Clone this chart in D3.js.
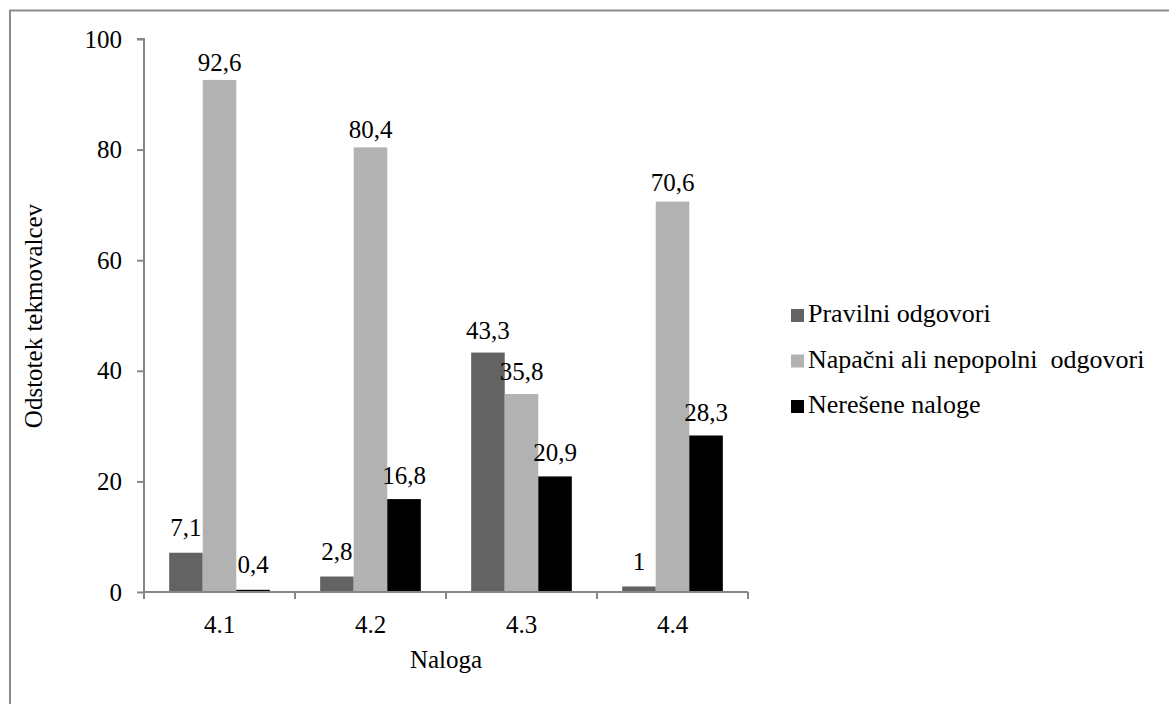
<!DOCTYPE html>
<html>
<head>
<meta charset="utf-8">
<script src="https://cdn.jsdelivr.net/npm/d3@7/dist/d3.min.js"></script>
</head>
<body style="margin:0">
<svg id="s" width="1169" height="704" style="font-family: 'Liberation Serif', Tinos, 'Times New Roman', serif"></svg>
<script>
// Naloge (tasks) on the x axis
const categories = ["4.1", "4.2", "4.3", "4.4"];
// Share of contestants per task, in percent
const seriesNames = ["Pravilni odgovori", "Napačni ali nepopolni\u00a0 odgovori", "Nerešene naloge"];
const pravilni = [7.1, 2.8, 43.3, 1];
const napacni = [92.6, 80.4, 35.8, 70.6];
const neresene = [0.4, 16.8, 20.9, 28.3];
const yTicks = [0, 20, 40, 60, 80, 100];
const seriesColors = ["#636363", "#b2b2b2", "#000000"];

const SERIF = "'Liberation Serif', Tinos, 'Times New Roman', serif";
const series = [pravilni, napacni, neresene];
const rows = categories.map((c, i) => ({
  cat: c,
  vals: series.map((s, k) => ({ key: k, cat: c, v: s[i] }))
}));

const svg = d3.select("#s");
const axisColor = "#868686";

// helper for all chart text: serif face, black
function label(sel, size) {
  return sel.attr("font-size", size)
    .attr("font-family", SERIF)
    .style("font-family", SERIF)
    .attr("fill", "#000");
}

// outer chart frame (top and left edges are visible)
svg.append("path")
  .attr("d", "M10,704 V10.5 H1169")
  .attr("fill", "none")
  .attr("stroke", "#8c8c8c")
  .attr("stroke-width", 2);

const x0 = d3.scaleBand().domain(categories).range([144, 748]);
// bars take 3 of 4.5 slots in each band (gap width 150%)
const bw = x0.bandwidth() / 4.5;
const y = d3.scaleLinear().domain([0, 100]).range([592, 39]);

// y axis
const yAxis = svg.append("g").attr("transform", "translate(144,0)")
  .call(d3.axisLeft(y).tickValues(yTicks).tickSize(7).tickPadding(15).tickFormat(d3.format("d")));
yAxis.attr("font-family", SERIF).attr("font-size", 25);
yAxis.select(".domain").attr("stroke", axisColor).attr("stroke-width", 2).attr("d", "M-7,39H0V592");
yAxis.selectAll(".tick line").attr("stroke", axisColor).attr("stroke-width", 2);
label(yAxis.selectAll(".tick text"), 25).attr("dy", "0.32em");

// bars
const groups = svg.append("g").selectAll("g").data(rows).join("g")
  .attr("transform", d => `translate(${x0(d.cat)},0)`);

groups.selectAll("rect").data(d => d.vals).join("rect")
  .attr("x", d => bw * 0.75 + d.key * bw)
  .attr("width", bw)
  .attr("y", d => y(d.v))
  .attr("height", d => y(0) - y(d.v))
  .attr("fill", d => seriesColors[d.key]);

// value labels above each bar
label(groups.selectAll("text.val").data(d => d.vals).join("text"), 25)
  .attr("class", "val")
  .attr("x", d => bw * 0.75 + d.key * bw + bw / 2)
  .attr("y", d => y(d.v) - (17 - d.v * 0.09))
  .attr("text-anchor", "middle")
  .text(d => String(d.v).replace(".", ","));

// x axis
const xAxis = svg.append("g").attr("transform", "translate(0,592)")
  .call(d3.axisBottom(x0).tickSize(0).tickPadding(0));
xAxis.attr("font-family", SERIF).attr("font-size", 25);
xAxis.select(".domain").attr("stroke", axisColor).attr("stroke-width", 2).attr("d", "M144,0H748");
label(xAxis.selectAll(".tick text"), 25).attr("y", 41).attr("dy", 0);
// category separators
svg.append("g").selectAll("line").data(d3.range(categories.length + 1)).join("line")
  .attr("x1", i => 144 + i * x0.bandwidth())
  .attr("x2", i => 144 + i * x0.bandwidth())
  .attr("y1", 592).attr("y2", 599)
  .attr("stroke", axisColor).attr("stroke-width", 2);

// axis titles
label(svg.append("text"), 25)
  .attr("x", 446).attr("y", 668)
  .attr("text-anchor", "middle")
  .text("Naloga");
label(svg.append("text"), 25)
  .attr("transform", "translate(42,316) rotate(-90)")
  .attr("text-anchor", "middle")
  .text("Odstotek tekmovalcev");

// legend
const legend = svg.append("g").selectAll("g").data(seriesNames).join("g")
  .attr("transform", (d, i) => `translate(791,${322 + i * 45.5})`);
legend.append("rect")
  .attr("x", 0).attr("y", -13).attr("width", 13).attr("height", 13)
  .attr("fill", (d, i) => seriesColors[i]);
label(legend.append("text"), 26)
  .attr("x", 17).attr("y", 0)
  .text(d => d);
</script>
</body>
</html>
